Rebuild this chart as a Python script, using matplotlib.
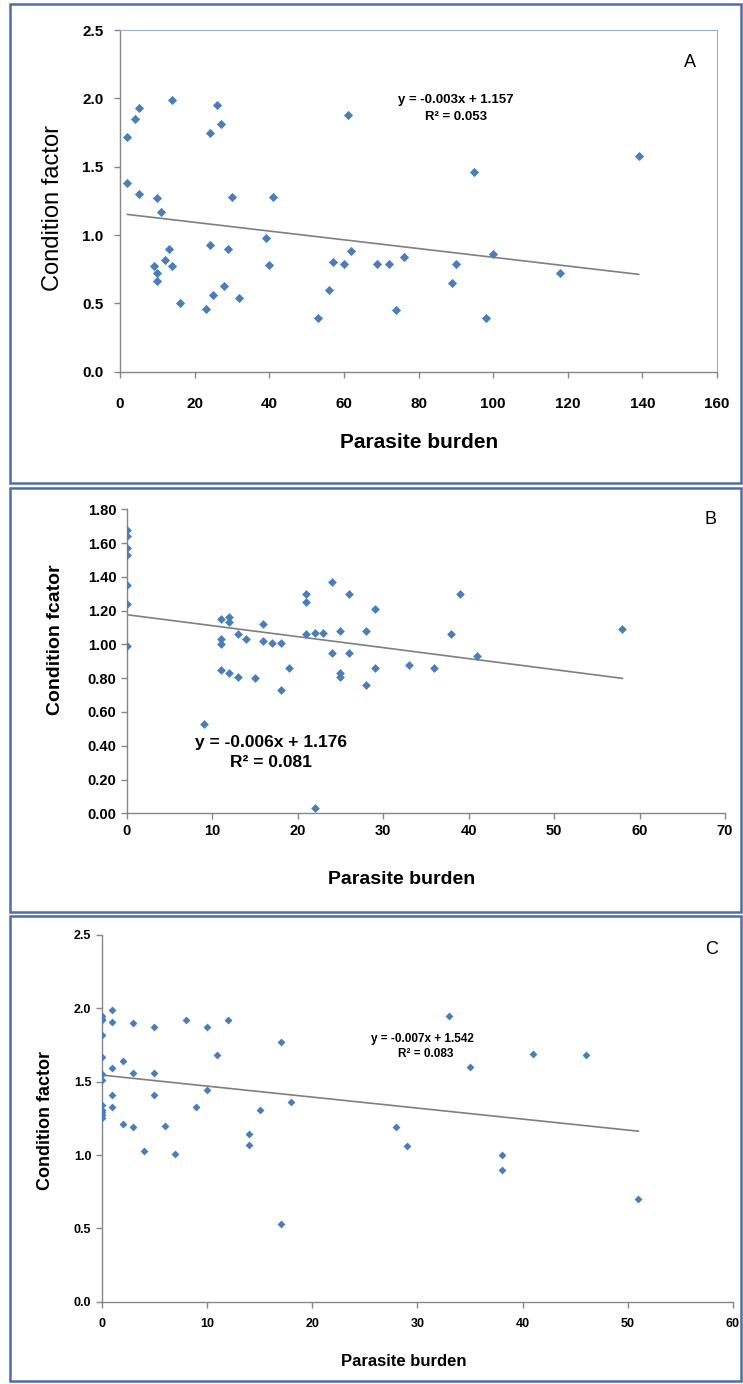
import matplotlib
matplotlib.use('Agg')
import matplotlib.pyplot as plt
from matplotlib.patches import Rectangle
import numpy as np

# panel A
a_x = [2, 2, 4, 5, 5, 10, 11, 14, 9, 10, 10, 12, 13, 14, 16, 23, 24, 24, 25, 26, 27, 28, 29, 30, 32,
       39, 40, 41, 53, 56, 57, 60, 61, 62, 69, 72, 74, 76, 89, 90, 95, 98, 100, 118, 139]
a_y = [1.72, 1.38, 1.85, 1.93, 1.30, 1.27, 1.17, 1.99, 0.77, 0.72, 0.66, 0.82, 0.90, 0.77, 0.50, 0.46,
       1.75, 0.93, 0.56, 1.95, 1.81, 0.63, 0.90, 1.28, 0.54, 0.98, 0.78, 1.28, 0.39, 0.60, 0.80, 0.79,
       1.88, 0.88, 0.79, 0.79, 0.45, 0.84, 0.65, 0.79, 1.46, 0.39, 0.86, 0.72, 1.58]
a_fit = (-0.0032, 1.157)

# panel B
b_x = [0, 0, 0, 0, 0, 0, 0, 9, 11, 12, 12, 11, 11, 13, 14, 16, 16, 17, 18, 11, 12, 13, 15, 18, 19,
       21, 21, 21, 22, 23, 24, 24, 25, 25, 25, 26, 26, 22, 28, 28, 29, 29, 33, 36, 38, 39, 41, 58]
b_y = [1.68, 1.64, 1.57, 1.53, 1.35, 1.24, 0.99, 0.53, 1.15, 1.16, 1.13, 1.03, 1.00, 1.06, 1.03, 1.12,
       1.02, 1.01, 1.01, 0.85, 0.83, 0.81, 0.80, 0.73, 0.86, 1.30, 1.25, 1.06, 1.07, 1.07, 1.37, 0.95,
       1.08, 0.83, 0.81, 1.30, 0.95, 0.03, 1.08, 0.76, 1.21, 0.86, 0.88, 0.86, 1.06, 1.30, 0.93, 1.09]
b_fit = (-0.0065, 1.176)

# panel C
c_x = [0, 0, 0, 0, 0, 0, 0, 0, 0, 0, 0, 0, 1, 1, 1, 1, 1, 2, 2, 3, 3, 3, 4, 5, 5, 5, 6, 7, 8, 9,
       10, 10, 11, 12, 14, 14, 15, 17, 17, 18, 28, 29, 33, 35, 41, 46, 38, 38, 51]
c_y = [1.95, 1.93, 1.92, 1.82, 1.67, 1.55, 1.51, 1.34, 1.31, 1.29, 1.27, 1.25, 1.99, 1.91, 1.59, 1.41,
       1.33, 1.64, 1.21, 1.90, 1.56, 1.19, 1.03, 1.87, 1.56, 1.41, 1.20, 1.01, 1.92, 1.33, 1.87, 1.44,
       1.68, 1.92, 1.14, 1.07, 1.31, 1.77, 0.53, 1.36, 1.19, 1.06, 1.95, 1.60, 1.69, 1.68, 1.00, 0.90, 0.70]
c_fit = (-0.0075, 1.545)

blue = '#4a7ebb'
axis_grey = '#868686'
line_grey = '#7f7f7f'
narrow = ['Liberation Sans Narrow', 'Liberation Sans', 'DejaVu Sans']
arial = ['Liberation Sans', 'DejaVu Sans']

W, H = 743, 1384
fig = plt.figure(figsize=(W / 100, H / 100), dpi=100)


def fx(px):
  return px / W


def fy(py):
  return 1 - py / H


def frame(top, bottom):
  # blue border around each panel
  fig.patches.append(Rectangle((fx(10), fy(bottom)), fx(731), (bottom - top) / H, transform=fig.transFigure,
                               fill=False, ec='#4a6ea6', lw=1.8))


def panel(box, xs, ys, fit, xmax, xlim, xstep, ylim, ystep, yfmt, msize):
  l, t, r, b = box
  ax = fig.add_axes([fx(l), fy(b), fx(r - l), (b - t) / H])
  ax.scatter(xs, ys, marker='D', s=msize, color=blue, zorder=3, linewidths=0)
  x0 = min(xs)
  xx = np.array([x0, xmax])
  ax.plot(xx, fit[0] * xx + fit[1], color=line_grey, lw=1.2, zorder=2)
  ax.set_xlim(*xlim)
  ax.set_ylim(*ylim)
  ax.set_xticks(np.arange(xlim[0], xlim[1] + 0.01, xstep))
  ax.set_yticks(np.arange(ylim[0], ylim[1] + 0.001, ystep))
  ax.set_yticklabels([yfmt % v for v in np.arange(ylim[0], ylim[1] + 0.001, ystep)])
  for s in ['left', 'bottom']:
    ax.spines[s].set_color(axis_grey)
    ax.spines[s].set_linewidth(1.0)
  ax.tick_params(direction='out', length=4, color=axis_grey, width=1.0)
  return ax


frame(4, 483)
frame(488, 912)
frame(916, 1381)

# A
axA = panel((120, 30, 717, 371.7), a_x, a_y, a_fit, 139, (0, 160), 20, (0, 2.5), 0.5, '%.1f', 22)
axA.spines['top'].set_color('#95b3d7')
axA.spines['right'].set_color('#95b3d7')
for lab in axA.get_xticklabels() + axA.get_yticklabels():
  lab.set_fontfamily(narrow)
  lab.set_fontweight('bold')
  lab.set_fontsize(11)
axA.tick_params(axis='x', pad=14)
axA.tick_params(axis='y', pad=8)
axA.text(90, 1.99, 'y = -0.003x + 1.157', ha='center', va='center', fontsize=9.5, family=narrow, weight='bold')
axA.text(90, 1.86, 'R² = 0.053', ha='center', va='center', fontsize=9.5, family=narrow, weight='bold')
axA.text(152.8, 2.26, 'A', ha='center', va='center', fontsize=13, family=arial)
fig.text(fx(53), fy(208), 'Condition factor', rotation=90, ha='center', va='center',
         fontsize=17, family=narrow)
fig.text(fx(419), fy(442), 'Parasite burden', ha='center', va='center',
         fontsize=15, family=narrow, weight='bold')

# B
axB = panel((126.7, 509.3, 725, 813.3), b_x, b_y, b_fit, 58, (0, 70), 10, (0, 1.8), 0.2, '%.2f', 20)
axB.spines['top'].set_visible(False)
axB.spines['right'].set_visible(False)
for lab in axB.get_xticklabels() + axB.get_yticklabels():
  lab.set_fontfamily(arial)
  lab.set_fontweight('bold')
  lab.set_fontsize(10.5)
axB.text(16.9, 0.42, 'y = -0.006x + 1.176', ha='center', va='center', fontsize=12.5, family=arial, weight='bold')
axB.text(16.9, 0.30, 'R² = 0.081', ha='center', va='center', fontsize=12.5, family=arial, weight='bold')
axB.text(68.3, 1.74, 'B', ha='center', va='center', fontsize=13, family=arial)
fig.text(fx(55), fy(640), 'Condition fcator', rotation=90, ha='center', va='center',
         fontsize=14, family=arial, weight='bold')
fig.text(fx(402), fy(880), 'Parasite burden', ha='center', va='center',
         fontsize=14, family=arial, weight='bold')

# C
axC = panel((101.7, 935, 733, 1301.7), c_x, c_y, c_fit, 51, (0, 60), 10, (0, 2.5), 0.5, '%.1f', 16)
axC.spines['top'].set_visible(False)
axC.spines['right'].set_visible(False)
for lab in axC.get_xticklabels() + axC.get_yticklabels():
  lab.set_fontfamily(arial)
  lab.set_fontweight('bold')
  lab.set_fontsize(9)
axC.tick_params(axis='x', pad=8)
axC.text(30.5, 1.79, 'y = -0.007x + 1.542', ha='center', va='center', fontsize=8.5, family=narrow, weight='bold')
axC.text(30.8, 1.69, 'R² = 0.083', ha='center', va='center', fontsize=8.5, family=narrow, weight='bold')
axC.text(58, 2.40, 'C', ha='center', va='center', fontsize=13, family=arial)
fig.text(fx(45), fy(1121), 'Condition factor', rotation=90, ha='center', va='center',
         fontsize=13, family=arial, weight='bold')
fig.text(fx(404), fy(1362), 'Parasite burden', ha='center', va='center',
         fontsize=12, family=arial, weight='bold')

fig.savefig('out.png', dpi=100)
